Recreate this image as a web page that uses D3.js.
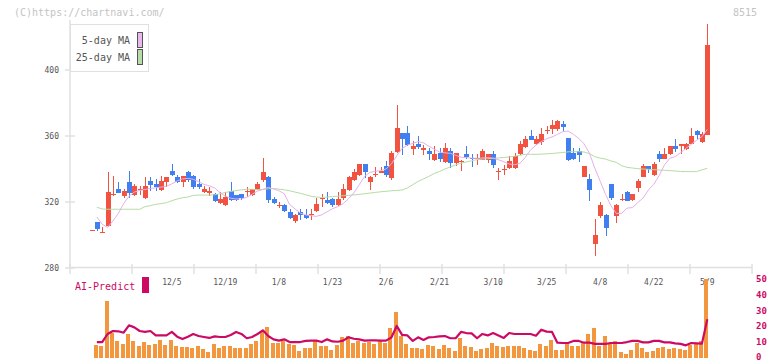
<!DOCTYPE html>
<html lang="ja">
<head>
<meta charset="UTF-8">
<title>8515</title>
<script src="https://d3js.org/d3.v7.min.js"></script>
<style>
    body { margin: 0; background: #fff; }
    svg { display: block; }
    text { font-family: "DejaVu Sans Mono", monospace; }
    .axis-line { stroke: #e0e0e0; stroke-width: 1.5px; fill: none; }
    .tick-label { fill: #555; font-size: 8px; }
</style>
</head>
<body>
<svg width="772" height="361"></svg>
<script>

    // trading days shown on the chart
    var dates = [
        '11/14', '11/15', '11/18', '11/19', '11/20', '11/21', '11/22', '11/25', '11/26', '11/27', '11/28', '11/29',
        '12/2', '12/3', '12/4', '12/5', '12/6', '12/9', '12/10', '12/11', '12/12', '12/13', '12/16', '12/17', '12/18', '12/19',
        '12/20', '12/23', '12/24', '12/25', '12/26', '12/27', '12/30', '1/6', '1/7', '1/8',
        '1/9', '1/10', '1/14', '1/15', '1/16', '1/17', '1/20', '1/21', '1/22', '1/23',
        '1/24', '1/27', '1/28', '1/29', '1/30', '1/31', '2/3', '2/4', '2/5', '2/6',
        '2/7', '2/10', '2/12', '2/13', '2/14', '2/17', '2/18', '2/19', '2/20', '2/21',
        '2/25', '2/26', '2/27', '2/28', '3/3', '3/4', '3/5', '3/6', '3/7', '3/10',
        '3/11', '3/12', '3/13', '3/14', '3/17', '3/18', '3/19', '3/21', '3/24', '3/25',
        '3/26', '3/27', '3/28', '3/31', '4/1', '4/2', '4/3', '4/4', '4/7', '4/8',
        '4/9', '4/10', '4/11', '4/14', '4/15', '4/16', '4/17', '4/18', '4/21', '4/22',
        '4/23', '4/24', '4/25', '4/28', '4/30', '5/1', '5/2', '5/7', '5/8', '5/9'
    ];

    var open = [
        302.6, 307.9, 301.5, 305.7, 324.0, 327.9, 323.8, 332.1, 324.2, 327.6,
        322.6, 332.7, 330.7, 327.5, 332.1, 338.8, 335.2, 332.3, 338.2, 335.8,
        330.7, 326.1, 325.2, 324.8, 319.6, 318.2, 326.7, 324.2, 324.6, 326.1,
        324.2, 327.7, 333.3, 335.2, 321.8, 318.0, 318.2, 313.9, 308.5, 313.9,
        312.3, 312.3, 314.5, 322.4, 321.2, 321.8, 318.2, 322.5, 327.5, 333.5,
        336.6, 343.0, 332.3, 336.8, 337.8, 341.8, 334.5, 350.3, 361.8, 361.8,
        352.1, 355.2, 351.5, 350.9, 345.4, 349.9, 344.2, 350.7, 343.6, 344.0,
        349.1, 346.9, 346.4, 345.7, 345.7, 349.1, 338.4, 339.9, 340.6, 340.6,
        349.1, 353.5, 360.0, 355.2, 356.6, 363.6, 364.2, 364.2, 367.5, 358.8,
        349.5, 350.9, 335.4, 333.9, 294.7, 311.5, 312.1, 330.9, 311.7, 321.6,
        326.1, 321.2, 328.7, 335.3, 341.8, 336.6, 349.1, 346.3, 349.3, 353.9,
        353.9, 352.1, 355.3, 363.0, 356.6, 360.8
    ];
    var high = [
        303.0, 307.9, 305.1, 338.2, 335.7, 332.1, 327.7, 338.8, 330.7, 329.7,
        335.2, 335.2, 333.9, 335.8, 334.9, 343.0, 336.4, 336.0, 338.5, 336.5,
        334.0, 329.7, 329.1, 325.5, 326.1, 326.1, 332.1, 324.5, 325.0, 329.1,
        328.0, 332.1, 346.9, 335.8, 323.0, 320.2, 318.6, 315.5, 313.0, 315.9,
        315.5, 315.5, 322.2, 324.6, 326.1, 322.6, 326.1, 330.7, 335.7, 340.2,
        343.3, 343.2, 335.5, 341.0, 341.0, 344.8, 350.9, 378.8, 362.0, 366.1,
        357.0, 360.0, 354.7, 352.7, 354.1, 352.7, 355.6, 352.7, 350.0, 345.3,
        353.9, 349.1, 349.1, 352.3, 349.3, 350.9, 340.8, 342.4, 347.9, 349.5,
        357.0, 360.2, 363.6, 360.2, 364.8, 366.1, 369.7, 369.7, 369.1, 359.0,
        352.9, 352.9, 342.0, 337.0, 309.7, 319.8, 312.7, 331.0, 318.5, 324.8,
        326.7, 325.0, 334.1, 343.0, 342.0, 344.4, 350.9, 352.7, 354.0, 358.2,
        355.3, 356.0, 364.6, 363.6, 362.2, 427.9
    ];
    var low = [
        302.6, 302.4, 301.5, 305.0, 323.8, 325.5, 322.6, 322.6, 323.5, 324.2,
        322.0, 326.9, 326.5, 326.5, 328.9, 336.0, 331.5, 329.3, 332.1, 327.7,
        327.7, 325.5, 323.8, 320.0, 319.0, 317.8, 320.5, 320.6, 321.4, 323.0,
        323.5, 327.0, 332.3, 319.6, 319.0, 316.4, 314.0, 310.0, 307.5, 309.3,
        309.5, 309.3, 314.0, 316.8, 319.0, 316.8, 317.5, 321.5, 326.5, 333.0,
        335.5, 334.8, 327.3, 335.0, 337.5, 335.2, 333.5, 349.5, 348.5, 354.0,
        348.7, 352.1, 348.7, 345.7, 344.8, 344.4, 343.8, 340.6, 341.8, 338.6,
        346.3, 341.4, 342.6, 345.3, 343.6, 340.8, 333.5, 336.6, 339.8, 340.0,
        348.5, 353.0, 357.5, 354.5, 354.5, 361.2, 361.2, 363.0, 363.0, 345.0,
        345.5, 344.4, 335.0, 320.8, 287.5, 310.5, 299.6, 321.2, 307.5, 320.8,
        320.5, 320.5, 326.3, 335.0, 337.8, 336.0, 344.4, 346.0, 348.5, 350.5,
        349.1, 351.5, 355.0, 358.2, 356.0, 360.5
    ];
    var close = [
        303.0, 303.8, 301.8, 326.0, 324.8, 325.7, 326.7, 325.7, 329.7, 327.9,
        329.7, 330.3, 329.1, 332.7, 334.9, 336.6, 332.3, 335.8, 333.5, 329.3,
        329.1, 327.7, 326.7, 320.6, 321.8, 323.0, 321.2, 321.2, 322.6, 326.5,
        327.7, 331.0, 338.2, 321.4, 319.6, 318.3, 314.7, 310.5, 312.3, 311.9,
        310.3, 312.5, 318.8, 322.6, 319.6, 318.2, 321.8, 328.1, 334.9, 338.2,
        343.0, 338.2, 335.2, 337.0, 339.0, 336.6, 349.7, 364.8, 358.2, 354.7,
        353.9, 353.3, 352.7, 349.3, 349.1, 346.1, 352.7, 343.8, 349.7, 345.0,
        347.1, 346.1, 346.7, 350.9, 349.1, 342.4, 338.6, 340.2, 344.9, 347.9,
        355.2, 358.2, 357.8, 358.2, 361.2, 363.8, 366.7, 369.1, 365.5, 345.5,
        346.1, 348.5, 341.8, 327.5, 300.0, 318.2, 304.4, 322.6, 318.2, 321.8,
        320.8, 324.8, 332.7, 341.8, 339.8, 343.0, 346.3, 349.1, 353.9, 352.1,
        355.1, 355.1, 360.0, 360.8, 361.2, 415.1
    ];

    // moving averages as drawn on the chart
    var ma5 = [
        null, 310.9, 306.5, 304.6, 308.5, 313.0, 319.0, 323.5, 326.0, 327.0,
        327.6, 328.2, 328.6, 329.0, 329.5, 331.0, 332.8, 334.0, 334.3, 333.8,
        332.3, 330.7, 329.8, 328.5, 325.6, 323.6, 322.3, 321.8, 321.9, 322.9,
        324.7, 326.6, 327.6, 328.9, 327.9, 326.8, 325.0, 318.5, 315.8, 313.3,
        312.2, 311.7, 311.3, 312.2, 314.1, 315.9, 317.2, 319.0, 322.0, 325.5,
        330.5, 335.5, 338.0, 338.6, 339.0, 340.0, 343.0, 348.0, 352.5, 354.5,
        355.5, 356.6, 355.8, 353.8, 352.0, 350.3, 349.8, 349.5, 348.3, 347.1,
        346.9, 346.6, 346.5, 346.7, 346.9, 346.5, 345.6, 344.4, 343.0, 342.6,
        343.4, 347.0, 351.6, 354.5, 356.5, 358.4, 359.4, 361.0, 362.6, 363.0,
        361.0, 358.5, 355.2, 349.5, 340.4, 332.6, 324.6, 317.8, 313.1, 313.1,
        316.3, 316.6, 319.6, 322.4, 327.3, 330.7, 336.0, 342.5, 346.5, 347.5,
        349.8, 352.5, 355.0, 357.4, 359.6, 364.0
    ];
    var ma25 = [
        null, 316.8, 315.8, 315.6, 315.6, 315.6, 315.6, 315.6, 315.6, 315.6,
        317.2, 317.8, 318.6, 319.0, 319.6, 320.8, 321.8, 322.6, 323.0, 324.0,
        324.2, 324.2, 324.2, 324.4, 325.0, 325.8, 326.4, 326.9, 327.4, 327.7,
        327.7, 327.5, 327.6, 328.0, 328.2, 327.8, 327.4, 326.8, 326.0, 325.3,
        324.4, 323.5, 323.0, 322.8, 323.0, 323.3, 323.5, 323.8, 324.0, 324.3,
        324.6, 325.0, 325.4, 325.8, 326.2, 326.5, 326.8, 327.0, 327.3, 328.5,
        330.5, 332.5, 334.0, 335.5, 337.3, 338.5, 340.0, 341.2, 342.5, 343.5,
        344.3, 345.0, 345.7, 346.0, 346.3, 346.5, 346.7, 347.0, 347.3, 347.7,
        348.3, 348.9, 348.9, 348.9, 349.0, 349.2, 349.4, 349.7, 350.0, 350.4,
        350.5, 350.5, 350.3, 349.3, 347.5, 346.6, 346.0, 344.9, 344.0, 342.0,
        341.0, 340.6, 340.2, 340.0, 339.8, 339.6, 339.4, 339.2, 339.0, 338.8,
        338.5, 338.4, 338.4, 338.4, 339.5, 340.4
    ];

    // lower panel
    var volume = [
        null, 8.2, 7.6, 36.1, 15.6, 10.8, 8.9, 15.2, 11.0, 7.6,
        10.1, 8.2, 8.9, 11.4, 8.2, 11.4, 7.6, 7.0, 7.0, 6.3,
        7.6, 5.7, 3.8, 8.9, 6.3, 7.6, 7.6, 6.3, 6.3, 6.3,
        8.9, 10.8, 16.5, 19.6, 9.5, 9.5, 10.8, 8.9, 8.2, 4.4,
        6.3, 6.3, 10.8, 7.6, 7.6, 5.1, 8.2, 13.3, 13.9, 9.5,
        10.8, 9.5, 10.1, 8.9, 10.8, 9.5, 19.0, 29.1, 13.9, 8.9,
        6.3, 6.3, 5.7, 8.2, 7.6, 5.7, 8.2, 6.3, 4.4, 12.7,
        7.6, 7.0, 4.4, 5.7, 6.3, 9.5, 7.6, 7.0, 7.6, 7.6,
        7.6, 6.3, 5.1, 4.4, 8.9, 7.6, 11.4, 5.1, 5.1, 8.9,
        7.6, 7.6, 9.5, 15.2, 19.0, 7.6, 13.9, 9.5, 10.8, 3.8,
        2.5, 5.1, 9.5, 6.3, 3.8, 4.4, 6.3, 7.0, 5.7, 6.3,
        5.7, 5.1, 8.2, 8.9, 10.8, 50.0
    ];
    var aiPredict = [
        null, 10.1, 10.1, 15.2, 17.1, 16.9, 16.0, 20.7, 19.4, 17.1,
        16.5, 17.1, 14.3, 14.3, 14.3, 16.5, 13.5, 12.0, 13.5, 15.2,
        13.9, 13.3, 12.7, 13.7, 13.3, 13.3, 14.6, 16.5, 15.2, 12.5,
        13.3, 15.2, 17.5, 13.9, 11.8, 11.0, 11.8, 10.1, 10.1, 10.1,
        10.8, 11.0, 11.0, 10.1, 11.8, 10.5, 10.3, 11.0, 13.1, 12.2,
        11.8, 11.0, 11.2, 11.2, 11.0, 11.0, 13.0, 20.3, 14.6, 14.3,
        10.8, 13.1, 11.4, 13.1, 13.3, 13.7, 13.9, 12.5, 12.5, 16.5,
        15.8, 15.6, 12.5, 15.2, 14.3, 15.8, 14.3, 12.7, 15.8, 15.2,
        15.2, 15.2, 15.2, 14.1, 17.9, 16.7, 16.5, 9.7, 9.5, 9.5,
        10.8, 10.8, 9.7, 9.7, 8.9, 8.9, 8.9, 9.5, 9.5, 9.5,
        10.1, 10.8, 10.8, 9.9, 9.9, 10.8, 10.8, 9.9, 9.9, 9.3,
        8.9, 8.0, 9.5, 9.3, 9.1, 24.5
    ];

    var priceTicks = [280, 320, 360, 400];
    var aiTicks = [0, 10, 20, 30, 40, 50];
    var dateTicks = ['12/5', '12/19', '1/8', '1/23', '2/6', '2/21', '3/10', '3/25', '4/8', '4/22', '5/9'];

    var upColor = '#f25240';
    var downColor = '#3f7ff0';

    var svg = d3.select('svg');

    var x = d3.scalePoint()
        .domain(dates)
        .range([91.5, 707.3]);

    var y = d3.scaleLinear()
        .domain([280, 400])
        .range([268, 70]);

    var yLow = d3.scaleLinear()
        .domain([0, 50])
        .range([358, 279]);

    // grid tick marks along the bottom axis
    var grid = d3.scaleLinear().domain([0, 11]).range([70, 752]);

    // header texts
    svg.append('text')
        .attr('x', 14).attr('y', 16)
        .style('font-size', '10px').style('fill', '#c4c4c4')
        .text('(C)https://chartnavi.com/');

    svg.append('text')
        .attr('x', 757).attr('y', 16)
        .attr('text-anchor', 'end')
        .style('font-size', '10px').style('fill', '#c4c4c4')
        .text('8515');

    // axes
    svg.append('line').attr('class', 'axis-line')
        .attr('x1', 70).attr('x2', 70).attr('y1', 20).attr('y2', 268);
    svg.append('line').attr('class', 'axis-line')
        .attr('x1', 70).attr('x2', 752).attr('y1', 267.5).attr('y2', 267.5);

    svg.append('g')
        .selectAll('line')
        .data(d3.range(12))
        .enter()
        .append('line')
        .attr('class', 'axis-line')
        .attr('x1', function (d) { return grid(d); })
        .attr('x2', function (d) { return grid(d); })
        .attr('y1', 264)
        .attr('y2', 274);

    svg.append('g')
        .selectAll('line')
        .data(priceTicks)
        .enter()
        .append('line')
        .attr('class', 'axis-line')
        .attr('x1', 65).attr('x2', 75)
        .attr('y1', function (d) { return y(d); })
        .attr('y2', function (d) { return y(d); });

    svg.append('g')
        .selectAll('text')
        .data(priceTicks)
        .enter()
        .append('text')
        .attr('class', 'tick-label')
        .attr('x', 59)
        .attr('y', function (d) { return y(d) + 3; })
        .attr('text-anchor', 'end')
        .text(function (d) { return d; });

    svg.append('g')
        .selectAll('text')
        .data(dateTicks)
        .enter()
        .append('text')
        .attr('class', 'tick-label')
        .attr('x', function (d) { return x(d); })
        .attr('y', 285)
        .attr('text-anchor', 'middle')
        .text(function (d) { return d; });

    // candles
    var candles = dates.map(function (d, i) {
        return { date: d, o: open[i], h: high[i], l: low[i], c: close[i] };
    });

    var cg = svg.append('g').attr('shape-rendering', 'crispEdges');

    cg.selectAll('.wick')
        .data(candles)
        .enter()
        .append('line')
        .attr('class', 'wick')
        .attr('x1', function (d) { return Math.round(x(d.date)) + 0.5; })
        .attr('x2', function (d) { return Math.round(x(d.date)) + 0.5; })
        .attr('y1', function (d) { return y(d.h); })
        .attr('y2', function (d) { return y(d.l); })
        .style('stroke', function (d) { return d.c >= d.o ? upColor : downColor; })
        .style('stroke-width', 1);

    cg.selectAll('.body')
        .data(candles)
        .enter()
        .append('rect')
        .attr('class', 'body')
        .attr('x', function (d) { return Math.round(x(d.date)) - 2; })
        .attr('width', 5)
        .attr('y', function (d) { return y(Math.max(d.o, d.c)); })
        .attr('height', function (d) { return Math.max(1, Math.abs(y(d.o) - y(d.c))); })
        .style('fill', function (d) { return d.c >= d.o ? upColor : downColor; });

    // moving averages
    function maLine(values) {
        return d3.line()
            .defined(function (d, i) { return values[i] != null; })
            .x(function (d) { return x(d); })
            .y(function (d, i) { return y(values[i]); })(dates);
    }

    svg.append('path')
        .attr('d', maLine(ma25))
        .style('fill', 'none')
        .style('stroke', '#b5dca4')
        .style('stroke-width', 1);

    svg.append('path')
        .attr('d', maLine(ma5))
        .style('fill', 'none')
        .style('stroke', '#e6b0ea')
        .style('stroke-width', 1);

    // legend
    var legend = svg.append('g');
    legend.append('rect')
        .attr('x', 70.5).attr('y', 24.5).attr('width', 78).attr('height', 47)
        .style('fill', '#fff').style('stroke', '#e0e0e0');
    [['5-day MA', '#eab8ec', 40], ['25-day MA', '#b8dca8', 57]].forEach(function (row) {
        legend.append('text')
            .attr('x', 130).attr('y', row[2] + 3.5)
            .attr('text-anchor', 'end')
            .style('font-size', '10px').style('fill', '#555')
            .text(row[0]);
        legend.append('rect')
            .attr('x', 137.5).attr('y', row[2] - 7.5).attr('width', 5).attr('height', 15)
            .style('fill', row[1]).style('stroke', '#555');
    });

    // lower panel: volume bars and AI-Predict line
    var lower = svg.append('g').attr('shape-rendering', 'crispEdges');
    lower.selectAll('rect')
        .data(dates.filter(function (d, i) { return volume[i] != null; }))
        .enter()
        .append('rect')
        .attr('x', function (d) { return Math.round(x(d)) - 3; })
        .attr('width', 4)
        .attr('y', function (d) { return yLow(volume[dates.indexOf(d)]); })
        .attr('height', function (d) { return yLow(0) - yLow(volume[dates.indexOf(d)]); })
        .style('fill', '#f2973e');

    svg.append('path')
        .attr('d', d3.line()
            .defined(function (d, i) { return aiPredict[i] != null; })
            .x(function (d) { return x(d); })
            .y(function (d, i) { return yLow(aiPredict[i]); })(dates))
        .style('fill', 'none')
        .style('stroke', '#cc0a64')
        .style('stroke-width', 2.2)
        .style('stroke-linejoin', 'round');

    svg.append('g')
        .selectAll('text')
        .data(aiTicks)
        .enter()
        .append('text')
        .attr('x', 756)
        .attr('y', function (d) { return Math.min(yLow(d) + 3, 359.5); })
        .style('font-size', '9px')
        .style('font-weight', 'bold')
        .style('fill', '#cc0a64')
        .text(function (d) { return d; });

    svg.append('text')
        .attr('x', 75).attr('y', 290)
        .style('font-size', '10px').style('fill', '#cc0a64')
        .text('AI-Predict');
    svg.append('rect')
        .attr('x', 142).attr('y', 277).attr('width', 7).attr('height', 16)
        .style('fill', '#cc0a64');

</script>
</body>
</html>
